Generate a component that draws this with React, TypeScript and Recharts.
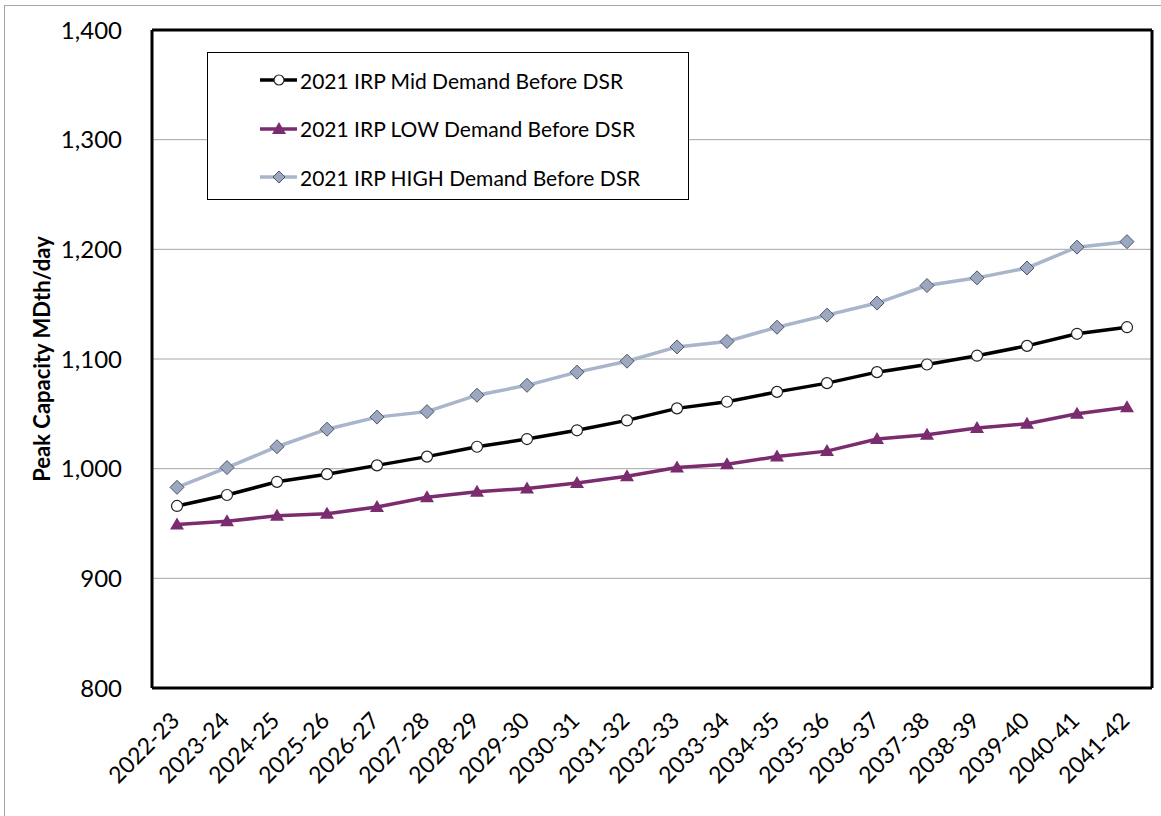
import {
  LineChart,
  Line,
  XAxis,
  YAxis,
  CartesianGrid,
  Legend,
} from "recharts";

const years = [
  "2022-23", "2023-24", "2024-25", "2025-26", "2026-27",
  "2027-28", "2028-29", "2029-30", "2030-31", "2031-32",
  "2032-33", "2033-34", "2034-35", "2035-36", "2036-37",
  "2037-38", "2038-39", "2039-40", "2040-41", "2041-42",
];

const midDemand = [
  966, 976, 988, 995, 1003, 1011, 1020, 1027, 1035, 1044,
  1055, 1061, 1070, 1078, 1088, 1095, 1103, 1112, 1123, 1129,
];

const lowDemand = [
  949, 952, 957, 959, 965, 974, 979, 982, 987, 993,
  1001, 1004, 1011, 1016, 1027, 1031, 1037, 1041, 1050, 1056,
];

const highDemand = [
  983, 1001, 1020, 1036, 1047, 1052, 1067, 1076, 1088, 1098,
  1111, 1116, 1129, 1140, 1151, 1167, 1174, 1183, 1202, 1207,
];

const yTicks = [800, 900, 1000, 1100, 1200, 1300, 1400];

const data = years.map((year, i) => ({
  year,
  mid: midDemand[i],
  low: lowDemand[i],
  high: highDemand[i],
}));

const FONT = "Lato, 'Noto Sans', sans-serif";
const MID = "#000000";
const LOW = "#7b2c6f";
const HIGH = "#a9b5ca";
const DIAMOND = "#9ba8bf";

const circleDot = (p: any) => (
  <circle key={p.index} cx={p.cx} cy={p.cy} r={5.5} fill="#fff" stroke="#222" strokeWidth={1.2} />
);

const triangleDot = (p: any) => (
  <path
    key={p.index}
    d={`M${p.cx},${p.cy - 7} L${p.cx + 7},${p.cy + 5} L${p.cx - 7},${p.cy + 5} Z`}
    fill={LOW}
  />
);

const diamondDot = (p: any) => (
  <path
    key={p.index}
    d={`M${p.cx},${p.cy - 7} L${p.cx + 7},${p.cy} L${p.cx},${p.cy + 7} L${p.cx - 7},${p.cy} Z`}
    fill={DIAMOND}
    stroke="#4d5566"
    strokeWidth={1}
  />
);

const XTick = ({ x, y, payload }: any) => {
  const tx = x + 4;
  const ty = y + 32;
  return (
    <text
      x={tx}
      y={ty}
      textAnchor="end"
      fontSize={23}
      fontFamily={FONT}
      fill="#000"
      transform={`rotate(-45, ${tx}, ${ty})`}
    >
      {payload.value}
    </text>
  );
};

const legendItems = [
  { key: "mid", label: "2021 IRP Mid Demand Before DSR", color: MID, marker: "circle" },
  { key: "low", label: "2021 IRP LOW Demand Before DSR", color: LOW, marker: "triangle" },
  { key: "high", label: "2021 IRP HIGH Demand Before DSR", color: HIGH, marker: "diamond" },
];

const LegendBox = () => (
  <div
    style={{
      border: "1px solid #000",
      background: "#fff",
      width: 480,
      height: 143,
      boxSizing: "content-box",
      paddingTop: 3,
    }}
  >
    {legendItems.map((item) => (
      <div
        key={item.key}
        style={{ display: "flex", alignItems: "center", height: 48.5, paddingLeft: 51 }}
      >
        <svg width={40} height={20}>
          <line x1={1} x2={38} y1={10} y2={10} stroke={item.color} strokeWidth={3.5} />
          {item.marker === "circle" && (
            <circle cx={20} cy={10} r={5} fill="#fff" stroke="#222" strokeWidth={1.2} />
          )}
          {item.marker === "triangle" && <path d="M20,3 L27,15 L13,15 Z" fill={LOW} />}
          {item.marker === "diamond" && (
            <path d="M20,4 L26,10 L20,16 L14,10 Z" fill={DIAMOND} stroke="#4d5566" strokeWidth={1} />
          )}
        </svg>
        <span style={{ fontFamily: FONT, fontSize: 21, color: "#000", marginLeft: 1 }}>
          {item.label}
        </span>
      </div>
    ))}
  </div>
);

export default function App() {
  return (
    <div
      style={{
        position: "absolute",
        left: 0,
        top: 0,
        width: 1161,
        height: 816,
        overflow: "hidden",
        background: "#fff",
      }}
    >
      <div
        style={{
          position: "absolute",
          left: 4,
          top: 5,
          width: 1300,
          height: 1000,
          border: "1px solid #a6a6a6",
        }}
      />
      <LineChart
        width={1161}
        height={816}
        data={data}
        margin={{ top: 29, right: 8, bottom: 0, left: 0 }}
      >
        <CartesianGrid vertical={false} stroke="#a6a6a6" strokeWidth={1} />
        <XAxis
          dataKey="year"
          height={128}
          padding={{ left: 25, right: 25 }}
          tick={<XTick />}
          tickLine={false}
          tickSize={0}
          interval={0}
          axisLine={{ stroke: "#000", strokeWidth: 3 }}
        />
        <XAxis
          xAxisId="top"
          orientation="top"
          height={1}
          tick={false}
          tickLine={false}
          axisLine={{ stroke: "#000", strokeWidth: 3 }}
        />
        <YAxis
          width={152}
          domain={[800, 1400]}
          ticks={yTicks}
          tickFormatter={(v: number) => v.toLocaleString("en-US")}
          tick={{ fontSize: 24, fontFamily: FONT, fill: "#000" }}
          tickLine={false}
          tickMargin={24}
          axisLine={{ stroke: "#000", strokeWidth: 3 }}
          label={{
            content: (props: any) => {
              const vb = props.viewBox || { y: 30, height: 658 };
              const cy = vb.y + vb.height / 2;
              return (
                <text
                  x={50}
                  y={cy}
                  textAnchor="middle"
                  fontSize={22}
                  fontWeight="bold"
                  fontFamily={FONT}
                  fill="#000"
                  transform={`rotate(-90, 50, ${cy})`}
                >
                  Peak Capacity MDth/day
                </text>
              );
            },
          }}
        />
        <YAxis
          yAxisId="right"
          orientation="right"
          width={1}
          domain={[800, 1400]}
          tick={false}
          tickLine={false}
          axisLine={{ stroke: "#000", strokeWidth: 3 }}
        />
        <Legend
          layout="vertical"
          align="center"
          verticalAlign="middle"
          content={<LegendBox />}
          wrapperStyle={{ left: 207, top: 52, width: "auto", height: "auto" }}
        />
        <Line
          dataKey="high"
          stroke={HIGH}
          strokeWidth={3.5}
          dot={diamondDot}
          activeDot={false}
          isAnimationActive={false}
        />
        <Line
          dataKey="mid"
          stroke={MID}
          strokeWidth={3.5}
          dot={circleDot}
          activeDot={false}
          isAnimationActive={false}
        />
        <Line
          dataKey="low"
          stroke={LOW}
          strokeWidth={3.5}
          dot={triangleDot}
          activeDot={false}
          isAnimationActive={false}
        />
      </LineChart>
    </div>
  );
}
